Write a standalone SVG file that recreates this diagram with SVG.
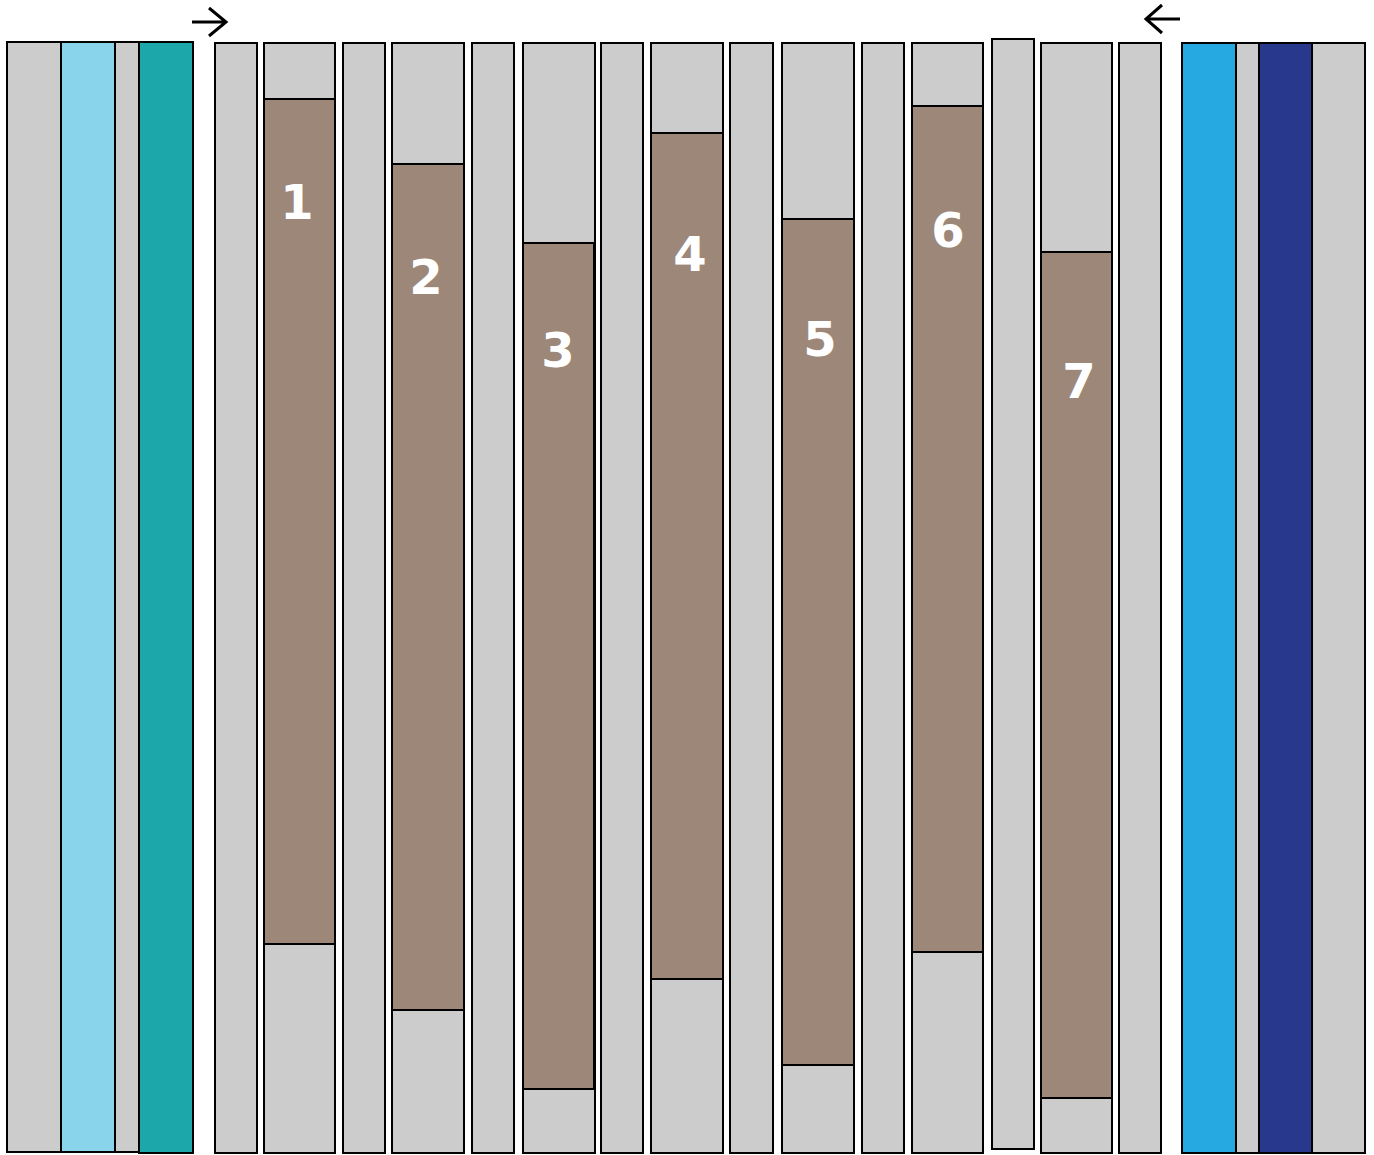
<svg xmlns="http://www.w3.org/2000/svg" width="1374" height="1155" viewBox="0 0 1374 1155">
<defs>
<style>
.g{fill:#cccccc;stroke:#000;stroke-width:2}
.b{fill:#9c8778;stroke:#000;stroke-width:2}
.lb{fill:#89d4ea;stroke:#000;stroke-width:2}
.tl{fill:#1ca7aa;stroke:#000;stroke-width:2}
.bl{fill:#25a9e0;stroke:#000;stroke-width:2}
.nv{fill:#27388d;stroke:#000;stroke-width:2}
.n{fill:#fff;font-family:"DejaVu Sans",Verdana,sans-serif;font-weight:bold;font-size:48px;text-anchor:middle}
.ar{fill:none;stroke:#000;stroke-width:3}
</style>
</defs>
<rect width="1374" height="1155" fill="#fff"/>
<g id="left-group">
<rect class="g" x="7" y="42" width="54" height="1110"/>
<rect class="lb" x="61" y="42" width="54" height="1110"/>
<rect class="g" x="115" y="42" width="24" height="1110"/>
<rect class="tl" x="139" y="42" width="54" height="1111"/>
</g>
<g id="right-group">
<rect class="bl" x="1182" y="43" width="54" height="1110"/>
<rect class="g" x="1236" y="43" width="23" height="1110"/>
<rect class="nv" x="1259" y="43" width="53" height="1110"/>
<rect class="g" x="1312" y="43" width="53" height="1110"/>
</g>
<g id="narrow-columns">
<rect class="g" x="215" y="43" width="42" height="1110"/>
<rect class="g" x="343" y="43" width="42" height="1110"/>
<rect class="g" x="472" y="43" width="42" height="1110"/>
<rect class="g" x="601" y="43" width="42" height="1110"/>
<rect class="g" x="730" y="43" width="43" height="1110"/>
<rect class="g" x="862" y="43" width="42" height="1110"/>
<rect class="g" x="992" y="39" width="42" height="1110"/>
<rect class="g" x="1119" y="43" width="42" height="1110"/>
</g>
<g id="col1"><rect class="g" x="264" y="43" width="71" height="1110"/><rect class="b" x="264" y="99" width="71" height="845"/><text class="n" x="297" y="219">1</text></g>
<g id="col2"><rect class="g" x="392" y="43" width="72" height="1110"/><rect class="b" x="392" y="164" width="72" height="846"/><text class="n" x="426" y="294">2</text></g>
<g id="col3"><rect class="g" x="523" y="43" width="72" height="1110"/><rect class="b" x="523" y="243" width="71" height="846"/><text class="n" x="558" y="367">3</text></g>
<g id="col4"><rect class="g" x="651" y="43" width="72" height="1110"/><rect class="b" x="651" y="133" width="72" height="846"/><text class="n" x="690" y="271">4</text></g>
<g id="col5"><rect class="g" x="782" y="43" width="72" height="1110"/><rect class="b" x="782" y="219" width="72" height="846"/><text class="n" x="820" y="356">5</text></g>
<g id="col6"><rect class="g" x="912" y="43" width="71" height="1110"/><rect class="b" x="912" y="106" width="71" height="846"/><text class="n" x="948" y="247">6</text></g>
<g id="col7"><rect class="g" x="1041" y="43" width="71" height="1110"/><rect class="b" x="1041" y="252" width="71" height="846"/><text class="n" x="1079" y="398">7</text></g>
<g id="connectors">
<path class="ar" d="M192 22 H226 M209 8 L226 22 L209 36"/>
<path class="ar" d="M1180 19 H1146 M1162 5 L1146 19 L1162 33"/>
</g>
</svg>
